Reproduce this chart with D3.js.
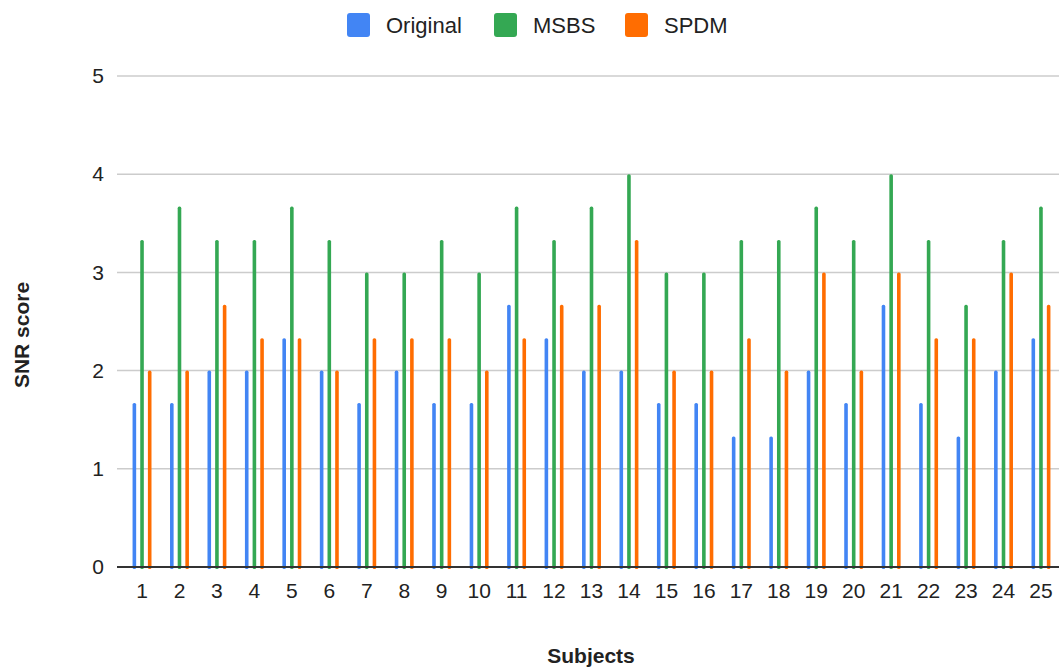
<!DOCTYPE html>
<html>
<head>
<meta charset="utf-8">
<script src="https://cdn.jsdelivr.net/npm/d3@7"></script>
<style>
  body { margin: 0; background: #fff; }
  text { font-family: "Liberation Sans", Arial, sans-serif; fill: #222; }
</style>
</head>
<body>
<div id="chart"></div>
<script>

// data
var subjects = ["1","2","3","4","5","6","7","8","9","10","11","12","13","14","15","16","17","18","19","20","21","22","23","24","25"];
var seriesNames = ["Original", "MSBS", "SPDM"];
var original = [1.67, 1.67, 2, 2, 2.33, 2, 1.67, 2, 1.67, 1.67, 2.67, 2.33, 2, 2, 1.67, 1.67, 1.33, 1.33, 2, 1.67, 2.67, 1.67, 1.33, 2, 2.33];
var msbs     = [3.33, 3.67, 3.33, 3.33, 3.67, 3.33, 3, 3, 3.33, 3, 3.67, 3.33, 3.67, 4, 3, 3, 3.33, 3.33, 3.67, 3.33, 4, 3.33, 2.67, 3.33, 3.67];
var spdm     = [2, 2, 2.67, 2.33, 2.33, 2, 2.33, 2.33, 2.33, 2, 2.33, 2.67, 2.67, 3.33, 2, 2, 2.33, 2, 3, 2, 3, 2.33, 2.33, 3, 2.67];
var yTicks = [0, 1, 2, 3, 4, 5];
var colors = ["#4285f4", "#34a853", "#ff6d01"];

var seriesValues = [original, msbs, spdm];

// set the dimensions
var width = 1059, height = 669;
var plotLeft = 117, plotRight = 1059, plotTop = 76, plotBottom = 567;

var svg = d3.select("#chart")
  .append("svg")
  .attr("width", width)
  .attr("height", height);

// scales
var x = d3.scaleBand()
  .domain(subjects)
  .range([123.3, 1059.7])
  .padding(0);

var xSub = d3.scaleBand()
  .domain(seriesNames)
  .range([-11.5, 11.5]);

var y = d3.scaleLinear()
  .domain([0, 5])
  .range([plotBottom, plotTop]);

var color = d3.scaleOrdinal()
  .domain(seriesNames)
  .range(colors);

// gridlines
svg.append("g")
  .selectAll("line")
  .data(yTicks.filter(function (d) { return d > 0; }))
  .enter()
  .append("line")
  .attr("x1", plotLeft)
  .attr("x2", plotRight)
  .attr("y1", function (d) { return y(d); })
  .attr("y2", function (d) { return y(d); })
  .attr("stroke", "#cccccc")
  .attr("stroke-width", 1.5);

// y axis labels
var yAxis = d3.axisLeft(y)
  .tickValues(yTicks)
  .tickFormat(d3.format("d"))
  .tickSize(0)
  .tickPadding(13);

var gy = svg.append("g")
  .attr("transform", "translate(" + plotLeft + ",0)")
  .call(yAxis);
gy.select(".domain").remove();
gy.selectAll("text")
  .style("font-size", "21px")
  .attr("fill", "#222");

// bars
var rows = [];
subjects.forEach(function (s, i) {
  seriesNames.forEach(function (k, j) {
    rows.push({ subject: s, key: k, value: seriesValues[j][i] });
  });
});

var barW = 3.6;
svg.append("g")
  .selectAll("rect")
  .data(rows)
  .enter()
  .append("rect")
  .attr("x", function (d) { return x(d.subject) + x.bandwidth() / 2 + xSub(d.key) + xSub.bandwidth() / 2 - barW / 2; })
  .attr("y", function (d) { return y(d.value); })
  .attr("width", barW)
  .attr("height", function (d) { return plotBottom - y(d.value) + 2; })
  .attr("rx", 1.6)
  .attr("fill", function (d) { return color(d.key); });

// baseline
svg.append("line")
  .attr("x1", plotLeft)
  .attr("x2", plotRight)
  .attr("y1", y(0))
  .attr("y2", y(0))
  .attr("stroke", "#333333")
  .attr("stroke-width", 2);

// x axis labels
var xAxis = d3.axisBottom(x)
  .tickSize(0)
  .tickPadding(16);

var gx = svg.append("g")
  .attr("transform", "translate(0," + plotBottom + ")")
  .call(xAxis);
gx.select(".domain").remove();
gx.selectAll("text")
  .style("font-size", "21px")
  .attr("fill", "#222");

// axis titles
svg.append("text")
  .attr("x", 591)
  .attr("y", 663)
  .attr("text-anchor", "middle")
  .style("font-size", "21px")
  .style("font-weight", "bold")
  .text("Subjects");

svg.append("text")
  .attr("transform", "translate(29,335) rotate(-90)")
  .attr("text-anchor", "middle")
  .style("font-size", "21px")
  .style("font-weight", "bold")
  .text("SNR score");

// legend
var legendX = [347, 494, 625];
var legend = svg.append("g");
var items = legend.selectAll("g")
  .data(seriesNames)
  .enter()
  .append("g")
  .attr("transform", function (d, i) { return "translate(" + legendX[i] + ",13)"; });

items.append("rect")
  .attr("width", 23)
  .attr("height", 24)
  .attr("rx", 3)
  .attr("fill", function (d) { return color(d); });

items.append("text")
  .attr("x", 39)
  .attr("y", 12)
  .attr("dy", "0.36em")
  .style("font-size", "22px")
  .text(function (d) { return d; });

</script>
</body>
</html>
